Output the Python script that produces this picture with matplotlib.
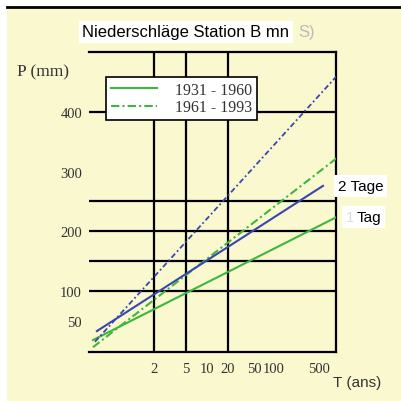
import numpy as np
import matplotlib
matplotlib.use("Agg")
import matplotlib.pyplot as plt
from matplotlib.patches import Rectangle

# Périodes de retour affichées (années)
T_ticks = [2, 5, 10, 20, 50, 100, 500]
T_grid = [2, 5, 20]
P_ticks = [50, 100, 200, 300, 400]
P_grid = [100, 150, 200, 250, 400]

# Droites de Gumbel : variable réduite u -> P (mm)
u_2j_ancien = [-1.65, 6.34]
P_2j_ancien = [33, 276]
u_2j_recent = [-1.72, 6.83]
P_2j_recent = [15, 460]
u_1j_ancien = [-1.79, 6.83]
P_1j_ancien = [18, 224]
u_1j_recent = [-1.79, 6.87]
P_1j_recent = [6, 324]


def gumbel(T):
    T = np.asarray(T, dtype=float)
    return -np.log(-np.log(1 - 1 / T))


vert = "#3fb53f"
bleu = "#3a46b0"
fond = "#faf8cf"
serif = ["Liberation Serif", "DejaVu Serif"]
sans = ["Liberation Sans", "DejaVu Sans"]

fig = plt.figure(figsize=(4.01, 4.02), dpi=100)
fig.patches.append(Rectangle((7 / 401, 0), 1, (402 - 8) / 402, transform=fig.transFigure,
                             facecolor=fond, edgecolor="none", zorder=-5))
fig.add_artist(plt.Line2D([7 / 401, 1], [1 - 8 / 402, 1 - 8 / 402], color="black", lw=2))

ax = fig.add_axes([89 / 401, 1 - 353 / 402, 247 / 401, 300 / 402])
ax.set_facecolor(fond)
ax.set_xlim(-1.93, 6.80)
ax.set_ylim(-2, 500)

for s in ["top", "right", "bottom"]:
    ax.spines[s].set_linewidth(1.6)
ax.spines["left"].set_visible(False)

for p in P_grid:
    ax.axhline(p, color="black", lw=1.6, zorder=1)
for t in gumbel(T_grid):
    ax.axvline(t, color="black", lw=1.6, zorder=1)

ax.plot(u_1j_ancien, P_1j_ancien, color=vert, lw=1.5, label="1931 - 1960", zorder=3)
ax.plot(u_1j_recent, P_1j_recent, color=vert, lw=1.5, ls=(0, (4, 1.5, 1, 1.5)),
        label="1961 - 1993", zorder=3)
ax.plot(u_2j_ancien, P_2j_ancien, color=bleu, lw=1.5, zorder=3)
ax.plot(u_2j_recent, P_2j_recent, color=bleu, lw=1.3, ls=(0, (3, 1.5, 1, 1.5)), zorder=3)

ax.set_xticks(gumbel(T_ticks))
ax.set_xticklabels([str(t) for t in T_ticks], fontfamily=serif, fontsize=10.5, color="#333333")
ax.set_yticks(P_ticks)
ax.set_yticklabels([str(p) for p in P_ticks], fontfamily=serif, fontsize=10.5, color="#333333")
ax.tick_params(axis="both", length=0)
ax.tick_params(axis="x", pad=7)
ax.tick_params(axis="y", pad=5)

leg = ax.legend(loc="upper left", bbox_to_anchor=((106 - 89) / 247, (353 - 78) / 300),
                borderaxespad=0, fancybox=False, edgecolor="black", framealpha=1,
                handlelength=2.9, handletextpad=1.1, borderpad=0.3, labelspacing=0.1,
                prop={"family": serif, "size": 11.5})
leg.get_frame().set_linewidth(1.2)
for txt in leg.get_texts():
    txt.set_color("#333333")

# Titre et étiquettes
fig.text(82 / 401, 1 - 33 / 402, "Niederschläge Station B mn", fontfamily=sans, fontsize=12,
         va="center", ha="left", bbox=dict(facecolor="white", edgecolor="none", pad=2.5))
fig.text(298 / 401, 1 - 33 / 402, "S)", fontfamily=sans, fontsize=12, color="#bbbbbb",
         va="center", ha="left")
fig.text(17 / 401, 1 - 72 / 402, "P (mm)", fontfamily=serif, fontsize=12.5, color="#333333",
         va="center", ha="left")
fig.text(333 / 401, 1 - 383 / 402, "T (ans)", fontfamily=sans, fontsize=11, color="#333333",
         va="center", ha="left")
fig.text(338 / 401, 1 - 187 / 402, "2 Tage", fontfamily=sans, fontsize=11,
         va="center", ha="left", bbox=dict(facecolor="white", edgecolor="none", pad=2.5))
fig.text(346 / 401, 1 - 218 / 402, "1", fontfamily=sans, fontsize=11, color="#dddddd",
         va="center", ha="left", bbox=dict(facecolor="white", edgecolor="none", pad=2.5))
fig.text(357 / 401, 1 - 218 / 402, "Tag", fontfamily=sans, fontsize=11,
         va="center", ha="left", bbox=dict(facecolor="white", edgecolor="none", pad=2.5))

fig.savefig("out.png", dpi=100, facecolor="white")
